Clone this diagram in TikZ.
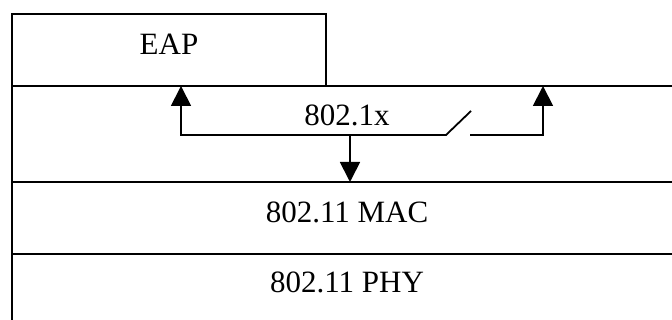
\documentclass[tikz,border=0pt]{standalone}
\usepackage{fontspec}
\setmainfont{Liberation Serif}
\usetikzlibrary{arrows.meta}
\begin{document}
\begin{tikzpicture}[x=1pt,y=1pt,
  layer/.style={draw,line width=1.3pt,inner sep=0pt,outer sep=0pt},
  lbl/.style={font=\fontsize{31}{36}\selectfont,anchor=base,inner sep=0pt},
  conn/.style={line width=1.8pt},
  tip/.style={conn,-{Triangle[width=20pt,length=20pt]}}]
\useasboundingbox (0,0) rectangle (672,320);
\clip (0,0) rectangle (672,320);
% layers
\node[layer,minimum width=314pt,minimum height=72pt] (eap) at (169,270) {};
\node[layer,minimum width=670pt,minimum height=96pt] (dot) at (347,186) {};
\node[layer,minimum width=670pt,minimum height=72pt] (mac) at (347,102) {};
\node[layer,minimum width=670pt,minimum height=72pt] (phy) at (347,30) {};
% labels
\node[lbl] (teap) at (169,265) {EAP};
\node[lbl] (tdot) at (347,194) {802.1x};
\node[lbl] (tmac) at (347,97) {802.11 MAC};
\node[lbl] (tphy) at (347,27) {802.11 PHY};
% switch connectors
\coordinate (swl) at (446,185);
\coordinate (swt) at (471,209);
\coordinate (swr) at (470,185);
\coordinate (lup) at (181,234);
\coordinate (rup) at (543,234);
\coordinate (tap) at (350,185);
\draw[tip] (swt) -- (swl) -| (lup);
\draw[tip] (swr) -| (rup);
\draw[tip] (tap) -- (tap |- mac.north);
\end{tikzpicture}
\end{document}
